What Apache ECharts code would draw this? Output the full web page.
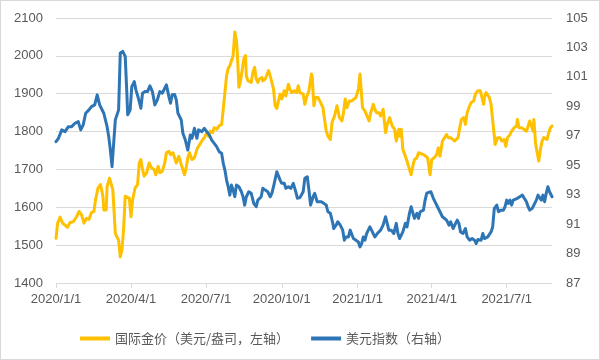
<!DOCTYPE html>
<html>
<head>
<meta charset="utf-8">
<script src="https://cdn.jsdelivr.net/npm/echarts@6/dist/echarts.min.js"></script>
<style>
html,body{margin:0;padding:0;background:#fff;}
#wrap{width:600px;height:360px;box-sizing:border-box;border:1px solid #d9d9d9;}
#chart{width:598px;height:358px;}
</style>
</head>
<body>
<div id="wrap"><div id="chart"></div></div>
<script>
const xTickDates = ['2020-01-01','2020-04-01','2020-07-01','2020-10-01','2021-01-01','2021-04-01','2021-07-01'];
const xMinDate = '2020-01-01';
const xMaxDate = '2021-08-25';
const seriesNames = ['国际金价（美元/盎司，左轴）','美元指数（右轴）'];

const goldDates = ['2020-01-01','2020-01-03','2020-01-06','2020-01-09','2020-01-12','2020-01-15','2020-01-18','2020-01-22','2020-01-26','2020-01-29',
'2020-02-01','2020-02-04','2020-02-07','2020-02-10','2020-02-13','2020-02-16','2020-02-18','2020-02-21','2020-02-24','2020-02-27','2020-02-28',
'2020-03-02','2020-03-03','2020-03-06','2020-03-08','2020-03-10','2020-03-13','2020-03-15','2020-03-17','2020-03-19','2020-03-21','2020-03-23','2020-03-25','2020-03-27','2020-03-30',
'2020-04-01','2020-04-03','2020-04-06','2020-04-09','2020-04-11','2020-04-13','2020-04-15','2020-04-17','2020-04-20','2020-04-23','2020-04-26','2020-04-29',
'2020-05-01','2020-05-04','2020-05-06','2020-05-09','2020-05-12','2020-05-14','2020-05-17','2020-05-19','2020-05-22','2020-05-24','2020-05-26','2020-05-29',
'2020-06-01','2020-06-03','2020-06-05','2020-06-07','2020-06-09','2020-06-11','2020-06-14','2020-06-17','2020-06-20','2020-06-22','2020-06-26','2020-06-29',
'2020-07-02','2020-07-04','2020-07-06','2020-07-09','2020-07-11','2020-07-14','2020-07-17','2020-07-20','2020-07-22','2020-07-24','2020-07-26','2020-07-28','2020-07-30',
'2020-08-01','2020-08-03','2020-08-05','2020-08-07','2020-08-08','2020-08-10','2020-08-12','2020-08-14','2020-08-16','2020-08-18','2020-08-19','2020-08-21','2020-08-23','2020-08-25','2020-08-27','2020-08-29','2020-08-31',
'2020-09-02','2020-09-04','2020-09-07','2020-09-08','2020-09-11','2020-09-15','2020-09-17','2020-09-19','2020-09-21','2020-09-23','2020-09-25','2020-09-27','2020-09-29',
'2020-10-01','2020-10-04','2020-10-06','2020-10-09','2020-10-11','2020-10-13','2020-10-16','2020-10-19','2020-10-21','2020-10-23','2020-10-25','2020-10-27','2020-10-29','2020-10-31',
'2020-11-03','2020-11-06','2020-11-07','2020-11-09','2020-11-11','2020-11-14','2020-11-17','2020-11-20','2020-11-22','2020-11-24','2020-11-26','2020-11-29',
'2020-12-01','2020-12-04','2020-12-07','2020-12-10','2020-12-13','2020-12-15','2020-12-17','2020-12-19','2020-12-22','2020-12-25','2020-12-27','2020-12-30',
'2021-01-02','2021-01-04','2021-01-05','2021-01-07','2021-01-10','2021-01-12','2021-01-15','2021-01-17','2021-01-20','2021-01-22','2021-01-24','2021-01-27','2021-01-29',
'2021-02-01','2021-02-04','2021-02-06','2021-02-09','2021-02-12','2021-02-15','2021-02-17','2021-02-20','2021-02-21','2021-02-23','2021-02-25','2021-02-28',
'2021-03-02','2021-03-05','2021-03-07','2021-03-09','2021-03-11','2021-03-14','2021-03-16','2021-03-18','2021-03-22','2021-03-24','2021-03-27','2021-03-30',
'2021-04-01','2021-04-04','2021-04-07','2021-04-09','2021-04-11','2021-04-14','2021-04-16','2021-04-19','2021-04-21','2021-04-24','2021-04-26','2021-04-29',
'2021-05-01','2021-05-03','2021-05-05','2021-05-07','2021-05-10','2021-05-12','2021-05-14','2021-05-17','2021-05-19','2021-05-22','2021-05-24','2021-05-27','2021-05-30',
'2021-06-01','2021-06-03','2021-06-04','2021-06-06','2021-06-08','2021-06-10','2021-06-12','2021-06-14','2021-06-16','2021-06-17','2021-06-20','2021-06-23','2021-06-25','2021-06-28','2021-06-30',
'2021-07-02','2021-07-05','2021-07-07','2021-07-10','2021-07-13','2021-07-14','2021-07-16','2021-07-19','2021-07-22','2021-07-25','2021-07-27','2021-07-29','2021-07-31',
'2021-08-02','2021-08-03','2021-08-05','2021-08-07','2021-08-09','2021-08-11','2021-08-13','2021-08-15','2021-08-17','2021-08-19','2021-08-21','2021-08-23','2021-08-25'];

const goldValues = [1518,1558,1574,1558,1553,1547,1560,1562,1575,1589,
1580,1558,1571,1568,1586,1589,1620,1651,1660,1629,1593,
1593,1655,1677,1682,1646,1531,1522,1513,1469,1487,1540,1629,1633,1624,
1575,1620,1651,1660,1717,1726,1700,1682,1691,1717,1704,1700,
1686,1708,1691,1695,1717,1744,1748,1739,1744,1739,1717,1735,
1713,1708,1686,1704,1731,1744,1726,1731,1753,1761,1775,1784,
1797,1788,1801,1797,1810,1806,1815,1819,1859,1903,1947,1967,1974,
1974,2001,2063,2040,2010,1917,1934,1939,1992,2001,1947,1934,1939,1930,1957,1970,1939,
1930,1939,1943,1934,1939,1961,1947,1943,1912,1868,1861,1881,1899,
1886,1908,1894,1925,1912,1903,1908,1903,1921,1903,1908,1899,1872,1890,
1908,1952,1943,1868,1890,1890,1877,1863,1832,1801,1788,1779,
1824,1841,1868,1837,1828,1850,1886,1863,1881,1881,1877,1890,
1912,1952,1947,1863,1854,1859,1828,1850,1872,1859,1850,1850,1841,
1859,1797,1819,1837,1815,1806,1775,1806,1788,1806,1753,1735,
1722,1700,1686,1708,1726,1731,1744,1748,1739,1735,1731,1686,
1726,1731,1739,1757,1735,1775,1779,1792,1784,1784,1788,1775,
1770,1784,1810,1832,1837,1819,1850,1868,1877,1881,1899,1908,1908,
1903,1872,1890,1903,1899,1890,1872,1868,1788,1766,1784,1784,1775,1779,1761,
1784,1792,1801,1810,1815,1832,1810,1810,1806,1801,1797,1828,1815,
1801,1832,1770,1744,1722,1753,1775,1784,1784,1779,1797,1810,1815];

const dxyDates = ['2020-01-01','2020-01-04','2020-01-08','2020-01-12','2020-01-16','2020-01-20','2020-01-24','2020-01-28','2020-01-31',
'2020-02-03','2020-02-06','2020-02-10','2020-02-13','2020-02-17','2020-02-20','2020-02-23','2020-02-25','2020-02-28',
'2020-03-03','2020-03-05','2020-03-07','2020-03-09','2020-03-11','2020-03-13','2020-03-15','2020-03-17','2020-03-19','2020-03-22','2020-03-25','2020-03-27','2020-03-28','2020-03-31',
'2020-04-02','2020-04-05','2020-04-07','2020-04-10','2020-04-13','2020-04-15','2020-04-18','2020-04-21','2020-04-24','2020-04-27','2020-04-30',
'2020-05-03','2020-05-06','2020-05-09','2020-05-12','2020-05-14','2020-05-17','2020-05-19','2020-05-21','2020-05-24','2020-05-26','2020-05-28',
'2020-06-01','2020-06-03','2020-06-06','2020-06-09','2020-06-12','2020-06-14','2020-06-17','2020-06-20','2020-06-22','2020-06-26','2020-06-29',
'2020-07-02','2020-07-05','2020-07-08','2020-07-11','2020-07-14','2020-07-17','2020-07-20','2020-07-22','2020-07-24','2020-07-26','2020-07-28','2020-07-30',
'2020-08-01','2020-08-03','2020-08-05','2020-08-07','2020-08-10','2020-08-13','2020-08-15','2020-08-17','2020-08-19','2020-08-22','2020-08-25','2020-08-28','2020-08-31',
'2020-09-02','2020-09-06','2020-09-08','2020-09-11','2020-09-14','2020-09-17','2020-09-19','2020-09-21','2020-09-25','2020-09-27','2020-09-29',
'2020-10-01','2020-10-04','2020-10-06','2020-10-09','2020-10-12','2020-10-15','2020-10-18','2020-10-20','2020-10-23','2020-10-25','2020-10-27','2020-10-29',
'2020-11-01','2020-11-03','2020-11-05','2020-11-08','2020-11-10','2020-11-13','2020-11-15','2020-11-18','2020-11-21','2020-11-24','2020-11-26','2020-11-29',
'2020-12-02','2020-12-03','2020-12-06','2020-12-08','2020-12-11','2020-12-14','2020-12-16','2020-12-18','2020-12-21','2020-12-23','2020-12-25','2020-12-27','2020-12-30',
'2021-01-02','2021-01-04','2021-01-06','2021-01-08','2021-01-10','2021-01-12','2021-01-14','2021-01-16','2021-01-18','2021-01-20','2021-01-22','2021-01-25','2021-01-27','2021-01-29',
'2021-02-01','2021-02-04','2021-02-06','2021-02-08','2021-02-11','2021-02-14','2021-02-17','2021-02-19','2021-02-21','2021-02-23','2021-02-25','2021-02-28',
'2021-03-02','2021-03-05','2021-03-07','2021-03-09','2021-03-11','2021-03-14','2021-03-16','2021-03-18','2021-03-22','2021-03-24','2021-03-26','2021-03-28','2021-03-31',
'2021-04-03','2021-04-06','2021-04-08','2021-04-11','2021-04-14','2021-04-16','2021-04-19','2021-04-22','2021-04-24','2021-04-27','2021-04-30',
'2021-05-02','2021-05-04','2021-05-06','2021-05-09','2021-05-12','2021-05-14','2021-05-17','2021-05-20','2021-05-23','2021-05-25','2021-05-27','2021-05-31',
'2021-06-02','2021-06-04','2021-06-06','2021-06-08','2021-06-12','2021-06-14','2021-06-16','2021-06-19','2021-06-21','2021-06-24','2021-06-27','2021-06-29',
'2021-07-01','2021-07-03','2021-07-05','2021-07-07','2021-07-09','2021-07-11','2021-07-14','2021-07-17','2021-07-20','2021-07-22','2021-07-25','2021-07-27','2021-07-29',
'2021-08-01','2021-08-03','2021-08-06','2021-08-08','2021-08-10','2021-08-12','2021-08-14','2021-08-16','2021-08-18','2021-08-20','2021-08-22','2021-08-25'];

const dxyValues = [96.60,96.83,97.40,97.28,97.62,97.62,97.85,97.96,97.40,
97.74,98.53,98.76,98.98,99.10,99.78,99.10,99.20,98.53,
97.62,96.94,96.03,94.90,96.49,98.08,98.08,98.76,102.62,102.73,102.39,99.89,98.42,98.76,
100.34,100.68,100.12,99.55,98.87,99.89,100.00,100.00,100.39,100.00,99.10,
99.44,100.00,99.89,100.23,100.46,99.66,99.21,99.78,99.80,99.44,98.53,
98.08,97.17,96.71,96.03,97.06,96.83,97.51,96.83,97.40,97.28,97.51,
97.28,97.06,96.71,96.49,96.26,95.92,95.81,95.13,94.67,93.99,93.54,92.97,
93.65,93.31,92.86,93.65,93.54,93.20,92.86,92.29,92.86,93.20,93.09,92.41,92.18,
92.63,92.86,93.43,93.31,93.20,92.86,93.09,93.54,94.56,94.45,93.99,
93.77,93.77,93.43,93.54,93.43,93.77,93.20,92.75,92.80,92.86,93.20,94.11,
94.22,93.31,92.29,92.86,93.09,92.52,92.63,92.52,92.41,92.29,91.84,91.73,
91.05,90.70,90.93,91.16,90.93,90.59,89.91,90.13,90.13,90.59,90.47,90.02,89.91,
89.79,89.45,89.68,90.13,89.91,90.36,90.59,90.81,90.59,90.36,90.13,90.36,90.25,90.59,
90.93,91.50,91.05,90.59,90.59,90.36,91.05,90.36,90.02,90.13,90.47,91.05,
90.81,91.73,92.18,92.07,91.39,91.73,91.39,91.84,91.95,92.63,93.10,93.20,93.20,
92.75,92.41,92.18,91.84,91.50,91.39,91.27,90.93,91.16,90.70,91.05,
91.27,91.05,90.47,90.36,90.70,90.13,89.91,90.02,89.91,89.68,89.95,89.91,
90.36,90.02,89.91,90.13,90.47,90.81,92.07,92.29,91.84,91.95,91.95,92.18,
92.63,92.41,92.63,92.29,92.63,92.52,92.75,92.86,92.97,92.86,92.52,92.18,91.95,
92.07,92.29,92.63,92.97,93.09,92.63,92.97,92.52,93.09,93.54,93.20,92.86];

function toTime(s){ const p = s.split('-').map(Number); return new Date(p[0], p[1]-1, p[2]).getTime(); }
const tickTimes = xTickDates.map(toTime);
const goldData = goldDates.map((d,i)=>[toTime(d), goldValues[i]]);
const dxyData = dxyDates.map((d,i)=>[toTime(d), dxyValues[i]]);

const textColor = '#595959';
const gridColor = '#d9d9d9';
const font = 'Liberation Sans, Arial, sans-serif';

const chart = echarts.init(document.getElementById('chart'), null, {renderer:'canvas'});
chart.setOption({
  animation: false,
  backgroundColor: '#ffffff',
  textStyle: {fontFamily: font},
  grid: {left: 55, right: 47, top: 17, bottom: 76, containLabel: false},
  legend: {
    left: 74, top: 326,
    itemWidth: 30, itemHeight: 4, itemGap: 22,
    icon: 'rect',
    textStyle: {color: textColor, fontSize: 13, fontFamily: 'Noto Sans CJK SC, sans-serif'},
    data: seriesNames
  },
  xAxis: {
    type: 'value',
    min: toTime(xMinDate), max: toTime(xMaxDate),
    axisLine: {show: true, lineStyle: {color: gridColor, width: 1}},
    axisTick: {show: true, customValues: tickTimes, length: 5, lineStyle: {color: gridColor}},
    axisLabel: {
      customValues: tickTimes, color: textColor, fontSize: 13, margin: 10, fontFamily: font,
      formatter: function(v){ const d = new Date(v); return d.getFullYear() + '/' + (d.getMonth()+1) + '/' + d.getDate(); }
    },
    splitLine: {show: false}
  },
  yAxis: [
    {
      type: 'value', min: 1400, max: 2100, interval: 100,
      axisLine: {show: false}, axisTick: {show: false},
      axisLabel: {color: textColor, fontSize: 13, margin: 13, fontFamily: font, formatter: function(v){ return String(v); }},
      splitLine: {show: true, lineStyle: {color: gridColor, width: 1}}
    },
    {
      type: 'value', min: 87, max: 105, interval: 2,
      axisLine: {show: false}, axisTick: {show: false},
      axisLabel: {color: textColor, fontSize: 13, margin: 14, fontFamily: font, formatter: function(v){ return String(v); }},
      splitLine: {show: false}
    }
  ],
  series: [
    {
      name: seriesNames[0], type: 'line', yAxisIndex: 0, data: goldData,
      showSymbol: false, symbol: 'none', color: '#FFC000',
      lineStyle: {color: '#FFC000', width: 3, cap: 'round', join: 'round'}
    },
    {
      name: seriesNames[1], type: 'line', yAxisIndex: 1, data: dxyData,
      showSymbol: false, symbol: 'none', color: '#2E75B6',
      lineStyle: {color: '#2E75B6', width: 3, cap: 'round', join: 'round'}
    }
  ]
});
</script>
</body>
</html>
